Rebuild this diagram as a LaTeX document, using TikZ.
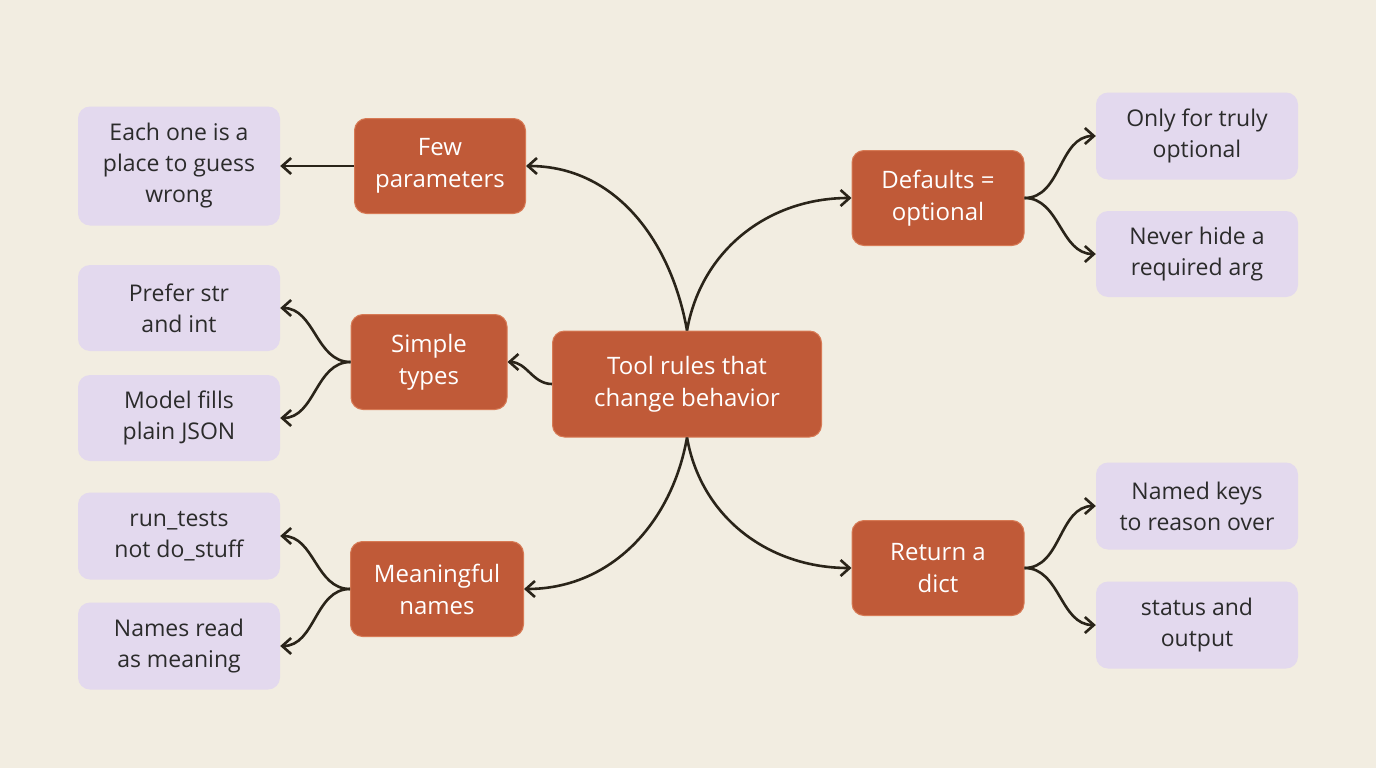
\documentclass[tikz,border=0pt]{standalone}
\usepackage{fontspec}
\setmainfont{Open Sans}
\usetikzlibrary{arrows.meta}
\definecolor{bg}{HTML}{F2EDE1}
\definecolor{org}{HTML}{C05A38}
\definecolor{orgb}{HTML}{D77A55}
\definecolor{lav}{HTML}{E3D9EE}
\definecolor{ink}{HTML}{2A2419}
\definecolor{txt}{HTML}{2B2B2B}
\begin{document}
\begin{tikzpicture}[x=1pt,y=-1pt,
  hub/.style={fill=org,draw=orgb,line width=1pt,rounded corners=12pt,text=white,align=center,font=\fontsize{24}{32}\selectfont,inner sep=0pt},
  leaf/.style={fill=lav,rounded corners=12pt,text=txt,align=center,font=\fontsize{23}{31}\selectfont,inner sep=0pt,minimum width=202pt},
  con/.style={draw=ink,line width=2.6pt,-{Straight Barb[length=9pt,width=16pt,line width=2.6pt]}}]
\fill[bg] (0,0) rectangle (1376,768);
\useasboundingbox (0,0) rectangle (1376,768);
\node[hub,minimum width=269pt,minimum height=106pt] (c) at (687,384) {Tool rules that\\change behavior};
\node[hub,minimum width=171pt,minimum height=95pt] (few) at (440,166) {Few\\parameters};
\node[hub,minimum width=156pt,minimum height=95pt] (sim) at (429,362) {Simple\\types};
\node[hub,minimum width=173pt,minimum height=95pt] (mea) at (437,589) {Meaningful\\names};
\node[hub,minimum width=172pt,minimum height=95pt] (def) at (938,198) {Defaults =\\optional};
\node[hub,minimum width=172pt,minimum height=95pt] (ret) at (938,568) {Return a\\dict};
\node[leaf,minimum height=119pt] (l1) at (179,166) {Each one is a\\place to guess\\wrong};
\node[leaf,minimum height=86pt] (l2) at (179,308) {Prefer str\\and int};
\node[leaf,minimum height=86pt] (l3) at (179,418) {Model fills\\plain JSON};
\node[leaf,minimum height=87pt] (l4) at (179,536) {run\_tests\\not do\_stuff};
\node[leaf,minimum height=87pt] (l5) at (179,646) {Names read\\as meaning};
\node[leaf,minimum height=87pt] (r1) at (1197,136) {Only for truly\\optional};
\node[leaf,minimum height=86pt] (r2) at (1197,254) {Never hide a\\required arg};
\node[leaf,minimum height=87pt] (r3) at (1197,506) {Named keys\\to reason over};
\node[leaf,minimum height=87pt] (r4) at (1197,625) {status and\\output};
\draw[con] (c.north) to[out=100,in=0] (few.east);
\draw[con] (c.north) to[out=80,in=180] (def.west);
\draw[con] (c.south) to[out=-100,in=0] (mea.east);
\draw[con] (c.south) to[out=-80,in=180] (ret.west);
\draw[con] (c.west) to[out=180,in=0] (sim.east);
\draw[con] (few.west) -- (l1.east);
\draw[con] (sim.west) to[out=180,in=0] (l2.east);
\draw[con] (sim.west) to[out=180,in=0] (l3.east);
\draw[con] (mea.west) to[out=180,in=0] (l4.east);
\draw[con] (mea.west) to[out=180,in=0] (l5.east);
\draw[con] (def.east) to[out=0,in=180] (r1.west);
\draw[con] (def.east) to[out=0,in=180] (r2.west);
\draw[con] (ret.east) to[out=0,in=180] (r3.west);
\draw[con] (ret.east) to[out=0,in=180] (r4.west);
\end{tikzpicture}
\end{document}
